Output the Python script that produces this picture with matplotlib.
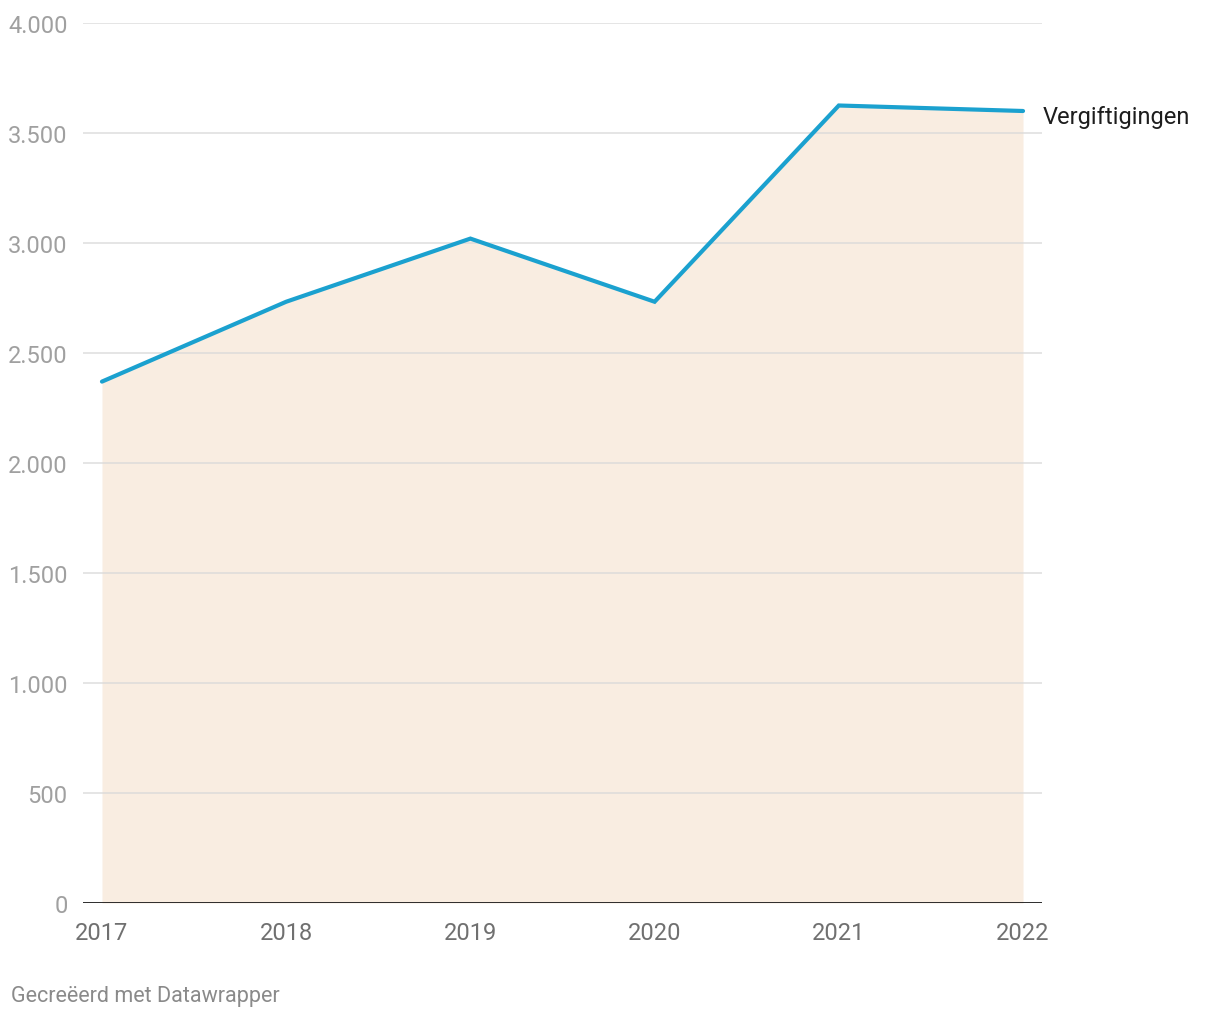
import matplotlib
matplotlib.use("Agg")
import matplotlib.pyplot as plt

years = [2017, 2018, 2019, 2020, 2021, 2022]
values = [2370, 2733, 3020, 2733, 3625, 3600]
yticks = [0, 500, 1000, 1500, 2000, 2500, 3000, 3500, 4000]
ytick_labels = ["0", "500", "1.000", "1.500", "2.000", "2.500", "3.000", "3.500", "4.000"]
series_label = "Vergiftigingen"
footer = "Gecreëerd met Datawrapper"

plt.rcParams['font.family'] = ['Roboto', 'DejaVu Sans']

fig = plt.figure(figsize=(12.2, 10.2), dpi=100)
ax = fig.add_axes([83/1220, 116/1020, 959/1220, 880/1020])

ax.fill_between(years, values, 0, color="#f9ede1", zorder=1, linewidth=0)
ax.plot(years, values, color="#1ba1cf", linewidth=3, zorder=3, solid_capstyle="round", solid_joinstyle="miter")

for t in yticks[1:]:
    ax.axhline(t, color="#d9d9d9", linewidth=1.2, alpha=0.8, zorder=2)
ax.axhline(0, color="#1a1a1a", linewidth=2, zorder=4)

ax.set_xlim(2016.897, 2022.103)
ax.set_ylim(0, 4000)
ax.set_yticks(yticks)
ax.set_yticklabels(ytick_labels)
ax.set_xticks(years)
ax.set_xticklabels([str(y) for y in years])
ax.tick_params(axis="y", length=0, pad=11, labelsize=17, labelcolor="#a0a0a0")
ax.tick_params(axis="x", length=0, pad=13, labelsize=17, labelcolor="#707070")
for s in ax.spines.values():
    s.set_visible(False)

ax.annotate(series_label, xy=(years[-1], values[-1]), xytext=(14, -4), textcoords="offset points",
            ha="left", va="center", fontsize=17, color="#1d1d1d", annotation_clip=False)

fig.text(11/1220, 1 - 997/1020, footer, ha="left", va="center", fontsize=15.5, color="#8a8a8a")

fig.savefig("out.png", dpi=100, facecolor="white")
